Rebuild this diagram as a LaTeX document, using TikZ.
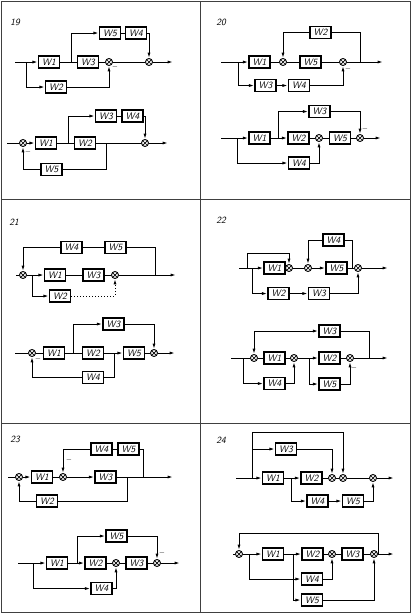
\documentclass[tikz,border=0pt]{standalone}
\usetikzlibrary{arrows.meta,calc}
\newcommand\wf{\fontsize{9.5}{9.5}\selectfont\sffamily\itshape}
\begin{document}
\begin{tikzpicture}[x=1pt,y=-1pt,
 blk/.style={draw, line width=1.1pt, minimum width=21pt, minimum height=12pt, inner sep=0pt, font=\wf},
 summ/.style={draw, circle, minimum size=7pt, inner sep=0pt, line width=0.9pt,
   path picture={\draw[line width=0.7pt] (path picture bounding box.north west)--(path picture bounding box.south east) (path picture bounding box.north east)--(path picture bounding box.south west);}},
 ln/.style={line width=1pt},
 ar/.style={line width=1pt, -{Latex[length=5.5pt,width=3pt]}},
 num/.style={font=\wf, inner sep=0pt},
 mns/.style={font=\fontsize{7}{7}\selectfont, inner sep=0pt},
 frm/.style={line width=0.9pt, black!75}]
\fill[white] (0,0) rectangle (412,614);
\useasboundingbox (0,0) rectangle (412,614);
% frame
\draw[frm] (1,1) rectangle (410,612);
\draw[frm] (200,1)--(200,612);
\draw[frm] (1,199)--(410,199);
\draw[frm] (1,423)--(410,423);

% ===== 19 top
\node[num] (n19) at (15,22) {19};
\coordinate (a19i) at (15,62);
\coordinate (a19b) at (26,62);
\node[blk] (a19w1) at (49,62) {W1};
\coordinate (a19c) at (71,62);
\node[blk] (a19w3) at (88,62) {W3};
\node[summ] (a19s1) at (109,62) {};
\node[blk] (a19w5) at (110,33) {W5};
\node[blk] (a19w4) at (136,33) {W4};
\node[summ] (a19s2) at (149,62) {};
\coordinate (a19o) at (173,62);
\node[blk] (a19w2) at (56,87) {W2};
\draw[ln] (a19i)--(a19b);
\draw[ar] (a19b)--(a19w1);
\draw[ar] (a19b)|-(a19w2);
\draw[ln] (a19w1)--(a19w3);
\draw[ar] (a19c)|-(a19w5);
\draw[ln] (a19w5)--(a19w4);
\draw[ar] (a19w4)-|(a19s2);
\draw[ln] (a19w3)--(a19s1);
\draw[ar] (a19w2)-|(a19s1);
\node[mns] (m19a) at (115,67) {$-$};
\draw[ln] (a19s1)--(a19s2);
\draw[ar] (a19s2)--(a19o);

% ===== 19 bottom
\coordinate (b19i) at (7,143);
\node[summ] (b19s1) at (23,143) {};
\node[blk] (b19w1) at (46,143) {W1};
\coordinate (b19c) at (68,143);
\node[blk] (b19w2) at (85,143) {W2};
\coordinate (b19d) at (106,143);
\node[summ] (b19s2) at (145,143) {};
\coordinate (b19o) at (168,143);
\node[blk] (b19w3) at (106,116) {W3};
\node[blk] (b19w4) at (132.5,116) {W4};
\node[blk] (b19w5) at (51.5,169.5) {W5};
\draw[ln] (b19i)--(b19s1);
\draw[ar] (b19s1)--(b19w1);
\draw[ln] (b19w1)--(b19w2);
\draw[ar] (b19c)|-(b19w3);
\draw[ln] (b19w3)--(b19w4);
\draw[ar] (b19w4)-|(b19s2);
\draw[ln] (b19w2)--(b19s2);
\draw[ln] (b19d)|-(b19w5);
\draw[ar] (b19w5)-|(b19s1);
\node[mns] (m19b) at (28,152) {$-$};
\draw[ar] (b19s2)--(b19o);

% ===== 20 top
\node[num] (n20) at (221,22) {20};
\coordinate (a20i) at (221,62);
\coordinate (a20b) at (238,62);
\node[blk] (a20w1) at (259.5,62) {W1};
\node[summ] (a20s1) at (283,62) {};
\node[blk] (a20w5) at (310.5,62) {W5};
\node[summ] (a20s2) at (343,62) {};
\coordinate (a20c) at (360,62);
\coordinate (a20o) at (383,62);
\node[blk] (a20w2) at (320.5,32.5) {W2};
\node[blk] (a20w3) at (265.5,85.5) {W3};
\node[blk] (a20w4) at (299,85.5) {W4};
\draw[ln] (a20i)--(a20b);
\draw[ar] (a20b)--(a20w1);
\draw[ln] (a20w1)--(a20s1);
\draw[ln] (a20s1)--(a20w5);
\draw[ln] (a20w5)--(a20s2);
\draw[ar] (a20s2)--(a20o);
\draw[ln] (a20c)|-(a20w2);
\draw[ar] (a20w2)-|(a20s1);
\draw[ar] (a20b)|-(a20w3);
\draw[ar] (a20w3)--(a20w4);
\draw[ar] (a20w4)-|(a20s2);
\node[mns] (m20a) at (348,69) {$-$};

% ===== 20 bottom
\coordinate (b20i) at (221,138);
\coordinate (b20b) at (237,138);
\node[blk] (b20w1) at (259.5,138) {W1};
\coordinate (b20c) at (278,138);
\node[blk] (b20w2) at (298.5,138) {W2};
\node[summ] (b20s1) at (319,138) {};
\node[blk] (b20w5) at (340,138) {W5};
\node[summ] (b20s2) at (360,138) {};
\coordinate (b20o) at (381,138);
\node[blk] (b20w3) at (319.5,111.5) {W3};
\node[blk] (b20w4) at (299,163) {W4};
\draw[ln] (b20i)--(b20b);
\draw[ar] (b20b)--(b20w1);
\draw[ln] (b20w1)--(b20c);
\draw[ar] (b20c)--(b20w2);
\draw[ar] (b20c)|-(b20w3);
\draw[ar] (b20w3)-|(b20s2);
\node[mns] (m20b) at (365,129) {$-$};
\draw[ln] (b20w2)--(b20s1);
\draw[ln] (b20s1)--(b20w5);
\draw[ln] (b20w5)--(b20s2);
\draw[ar] (b20s2)--(b20o);
\draw[ar] (b20b)|-(b20w4);
\draw[ar] (b20w4)-|(b20s1);

% ===== 21 top
\node[num] (n21) at (14,222) {21};
\coordinate (a21i) at (16,275);
\node[summ] (a21s1) at (23,275) {};
\coordinate (a21b) at (32,275);
\node[blk] (a21w1) at (55,275) {W1};
\node[blk] (a21w3) at (93.5,275) {W3};
\node[summ] (a21s2) at (115,275) {};
\coordinate (a21j) at (155,275);
\coordinate (a21o) at (176,275);
\node[blk] (a21w4) at (71.5,247.5) {W4};
\node[blk] (a21w5) at (115.5,247.5) {W5};
\node[blk] (a21w2) at (60,296) {W2};
\draw[ln] (a21i)--(a21s1);
\draw[ln] (a21s1)--(a21b);
\draw[ar] (a21b)--(a21w1);
\draw[ln] (a21w1)--(a21w3);
\draw[ln] (a21w3)--(a21s2);
\draw[ar] (a21s2)--(a21o);
\draw[ln] (a21j)|-(a21w5);
\draw[ln] (a21w5)--(a21w4);
\draw[ar] (a21w4)-|(a21s1);
\draw[ar] (a21b)|-(a21w2);
\draw[ar, dotted] (a21w2)-|(a21s2);

% ===== 21 bottom
\coordinate (b21i) at (15,353);
\node[summ] (b21s1) at (32,353) {};
\node[blk] (b21w1) at (54,353) {W1};
\coordinate (b21b) at (73,353);
\node[blk] (b21w2) at (93,353) {W2};
\coordinate (b21j) at (114,353);
\node[blk] (b21w5) at (134,353) {W5};
\node[summ] (b21s2) at (154,353) {};
\coordinate (b21o) at (175,353);
\node[blk] (b21w3) at (113.5,324) {W3};
\node[blk] (b21w4) at (93,377.5) {W4};
\draw[ln] (b21i)--(b21s1);
\draw[ln] (b21s1)--(b21w1);
\draw[ln] (b21w1)--(b21w2);
\draw[ar] (b21b)|-(b21w3);
\draw[ar] (b21w3)-|(b21s2);
\draw[ln] (b21w2)--(b21j);
\draw[ar] (b21j)--(b21w5);
\draw[ln] (b21w5)--(b21s2);
\draw[ar] (b21s2)--(b21o);
\draw[ln] (b21j)|-(b21w4);
\draw[ar] (b21w4)-|(b21s1);
\node[mns] (m21b) at (38,359) {$-$};

% ===== 22 top
\node[num] (n22) at (221,220) {22};
\coordinate (a22i) at (239,268);
\coordinate (a22b) at (247,268);
\coordinate (a22d) at (252,268);
\coordinate (a22t) at (247,253);
\node[blk] (a22w1) at (274.5,268) {W1};
\node[summ] (a22s1) at (289,268) {};
\node[summ] (a22s2) at (308,268) {};
\node[blk] (a22w5) at (336.5,268) {W5};
\coordinate (a22j) at (352,268);
\node[summ] (a22s3) at (358,268) {};
\coordinate (a22o) at (388,268);
\node[blk] (a22w4) at (333.5,240) {W4};
\node[blk] (a22w2) at (278.5,293.5) {W2};
\node[blk] (a22w3) at (319,293.5) {W3};
\draw[ln] (a22i)--(a22d);
\draw[ar] (a22d)--(a22w1);
\draw[ar] (a22b)--(a22t)-|(a22s1);
\draw[ln] (a22s1)--(a22s2);
\draw[ar] (a22s2)--(a22w5);
\draw[ln] (a22w5)--(a22s3);
\draw[ar] (a22s3)--(a22o);
\draw[ln] (a22j)|-(a22w4);
\draw[ar] (a22w4)-|(a22s2);
\draw[ar] (a22d)|-(a22w2);
\draw[ar] (a22w2)--(a22w3);
\draw[ar] (a22w3)-|(a22s3);

% ===== 22 bottom
\coordinate (b22i) at (231,358);
\coordinate (b22b) at (243,358);
\node[summ] (b22s1) at (254,358) {};
\node[blk] (b22w1) at (274.5,358) {W1};
\node[summ] (b22s2) at (294,358) {};
\coordinate (b22c) at (309,358);
\node[blk] (b22w2) at (329.5,358) {W2};
\node[summ] (b22s3) at (350,358) {};
\coordinate (b22j) at (369,358);
\coordinate (b22o) at (388,358);
\coordinate (b22t) at (254,331);
\node[blk] (b22w3) at (329.5,331) {W3};
\node[blk] (b22w4) at (274.5,383.5) {W4};
\node[blk] (b22w5) at (329.5,384) {W5};
\draw[ln] (b22i)--(b22s1);
\draw[ln] (b22s1)--(b22w1);
\draw[ar] (b22b)|-(b22w4);
\draw[ar] (b22w4)-|(b22s2);
\draw[ln] (b22w1)--(b22s2);
\draw[ln] (b22s2)--(b22c);
\draw[ar] (b22c)--(b22w2);
\draw[ar] (b22c)|-(b22w5);
\draw[ln] (b22w2)--(b22s3);
\draw[ar] (b22w5)-|(b22s3);
\node[mns] (m22b) at (354,368) {$-$};
\draw[ln] (b22s3)--(b22j);
\draw[ar] (b22j)--(b22o);
\draw[ln] (b22j)|-(b22w3);
\draw[ar] (b22t)--(b22w3);
\draw[ar] (b22t)--(b22s1);

% ===== 23 top
\node[num] (n23) at (15,439) {23};
\coordinate (a23i) at (8,477);
\node[summ] (a23s1) at (19,477) {};
\node[blk] (a23w1) at (42,477) {W1};
\node[summ] (a23s2) at (63,477) {};
\node[blk] (a23w3) at (105.5,477) {W3};
\coordinate (a23b) at (127,477);
\coordinate (a23j) at (143,477);
\coordinate (a23o) at (173,477);
\node[blk] (a23w4) at (101.5,449) {W4};
\node[blk] (a23w5) at (128.5,449) {W5};
\node[blk] (a23w2) at (47,501) {W2};
\draw[ln] (a23i)--(a23s1);
\draw[ar] (a23s1)--(a23w1);
\draw[ln] (a23w1)--(a23s2);
\draw[ar] (a23s2)--(a23w3);
\draw[ln] (a23w3)--(a23j);
\draw[ar] (a23j)--(a23o);
\draw[ln] (a23b)|-(a23w2);
\draw[ar] (a23w2)-|(a23s1);
\draw[ln] (a23j)|-(a23w5);
\draw[ln] (a23w5)--(a23w4);
\draw[ar] (a23w4)-|(a23s2);
\node[mns] (m23a) at (69,460) {$-$};

% ===== 23 bottom
\coordinate (b23i) at (18,563);
\coordinate (b23b) at (33,563);
\node[blk] (b23w1) at (57,563) {W1};
\coordinate (b23c) at (77,563);
\node[blk] (b23w2) at (95.5,563) {W2};
\node[summ] (b23s1) at (116,563) {};
\node[blk] (b23w3) at (136.5,563) {W3};
\node[summ] (b23s2) at (157,563) {};
\coordinate (b23o) at (180,563);
\node[blk] (b23w5) at (116.5,536) {W5};
\node[blk] (b23w4) at (101.5,588.5) {W4};
\draw[ln] (b23i)--(b23b);
\draw[ar] (b23b)--(b23w1);
\draw[ln] (b23w1)--(b23c);
\draw[ar] (b23c)--(b23w2);
\draw[ar] (b23c)|-(b23w5);
\draw[ar] (b23w5)-|(b23s2);
\node[mns] (m23b) at (162,553) {$-$};
\draw[ln] (b23w2)--(b23s1);
\draw[ln] (b23s1)--(b23w3);
\draw[ln] (b23w3)--(b23s2);
\draw[ar] (b23s2)--(b23o);
\draw[ar] (b23b)|-(b23w4);
\draw[ar] (b23w4)-|(b23s1);

% ===== 24 top
\node[num] (n24) at (221,440) {24};
\coordinate (a24i) at (236,478);
\coordinate (a24b) at (252,478);
\coordinate (a24t) at (252,432);
\node[blk] (a24w1) at (273,478) {W1};
\coordinate (a24c) at (291,478);
\node[blk] (a24w2) at (311.5,478) {W2};
\node[summ] (a24s1) at (332,478) {};
\node[summ] (a24s2) at (343,478) {};
\node[summ] (a24s3) at (373,478) {};
\coordinate (a24o) at (394,478);
\node[blk] (a24w3) at (286,449) {W3};
\node[blk] (a24w4) at (317.5,501) {W4};
\node[blk] (a24w5) at (353,501) {W5};
\draw[ln] (a24i)--(a24b);
\draw[ar] (a24b)--(a24w1);
\draw[ln] (a24w1)--(a24c);
\draw[ar] (a24c)--(a24w2);
\draw[ln] (a24w2)--(a24s1);
\draw[ln] (a24s1)--(a24s2);
\draw[ln] (a24s2)--(a24s3);
\draw[ar] (a24s3)--(a24o);
\draw[ar] (a24b)--(a24t)-|(a24s2);
\draw[ar] (a24b)|-(a24w3);
\draw[ar] (a24w3)-|(a24s1);
\draw[ar] (a24c)|-(a24w4);
\draw[ar] (a24w4)--(a24w5);
\draw[ar] (a24w5)-|(a24s3);

% ===== 24 bottom
\coordinate (b24i) at (233,554);
\node[summ] (b24s1) at (239,554) {};
\coordinate (b24b) at (249,554);
\node[blk] (b24w1) at (273,554) {W1};
\coordinate (b24c) at (293,554);
\node[blk] (b24w2) at (312.5,554) {W2};
\node[summ] (b24s2) at (332,554) {};
\node[blk] (b24w3) at (352.5,554) {W3};
\node[summ] (b24s3) at (374,554) {};
\coordinate (b24j) at (378,554);
\coordinate (b24o) at (394,554);
\coordinate (b24t) at (239,533);
\node[blk] (b24w4) at (312,579) {W4};
\node[blk] (b24w5) at (312,600) {W5};
\draw[ln] (b24i)--(b24s1);
\draw[ln] (b24s1)--(b24b);
\draw[ar] (b24b)--(b24w1);
\draw[ln] (b24w1)--(b24c);
\draw[ar] (b24c)--(b24w2);
\draw[ln] (b24w2)--(b24s2);
\draw[ln] (b24s2)--(b24w3);
\draw[ln] (b24w3)--(b24s3);
\draw[ln] (b24s3)--(b24j);
\draw[ar] (b24j)--(b24o);
\draw[ar] (b24j)|-(b24t)--(b24s1);
\draw[ar] (b24b)|-(b24w4);
\draw[ar] (b24c)|-(b24w5);
\draw[ar] (b24w4)-|(b24s2);
\draw[ar] (b24w5)-|(b24s3);
\end{tikzpicture}
\end{document}
